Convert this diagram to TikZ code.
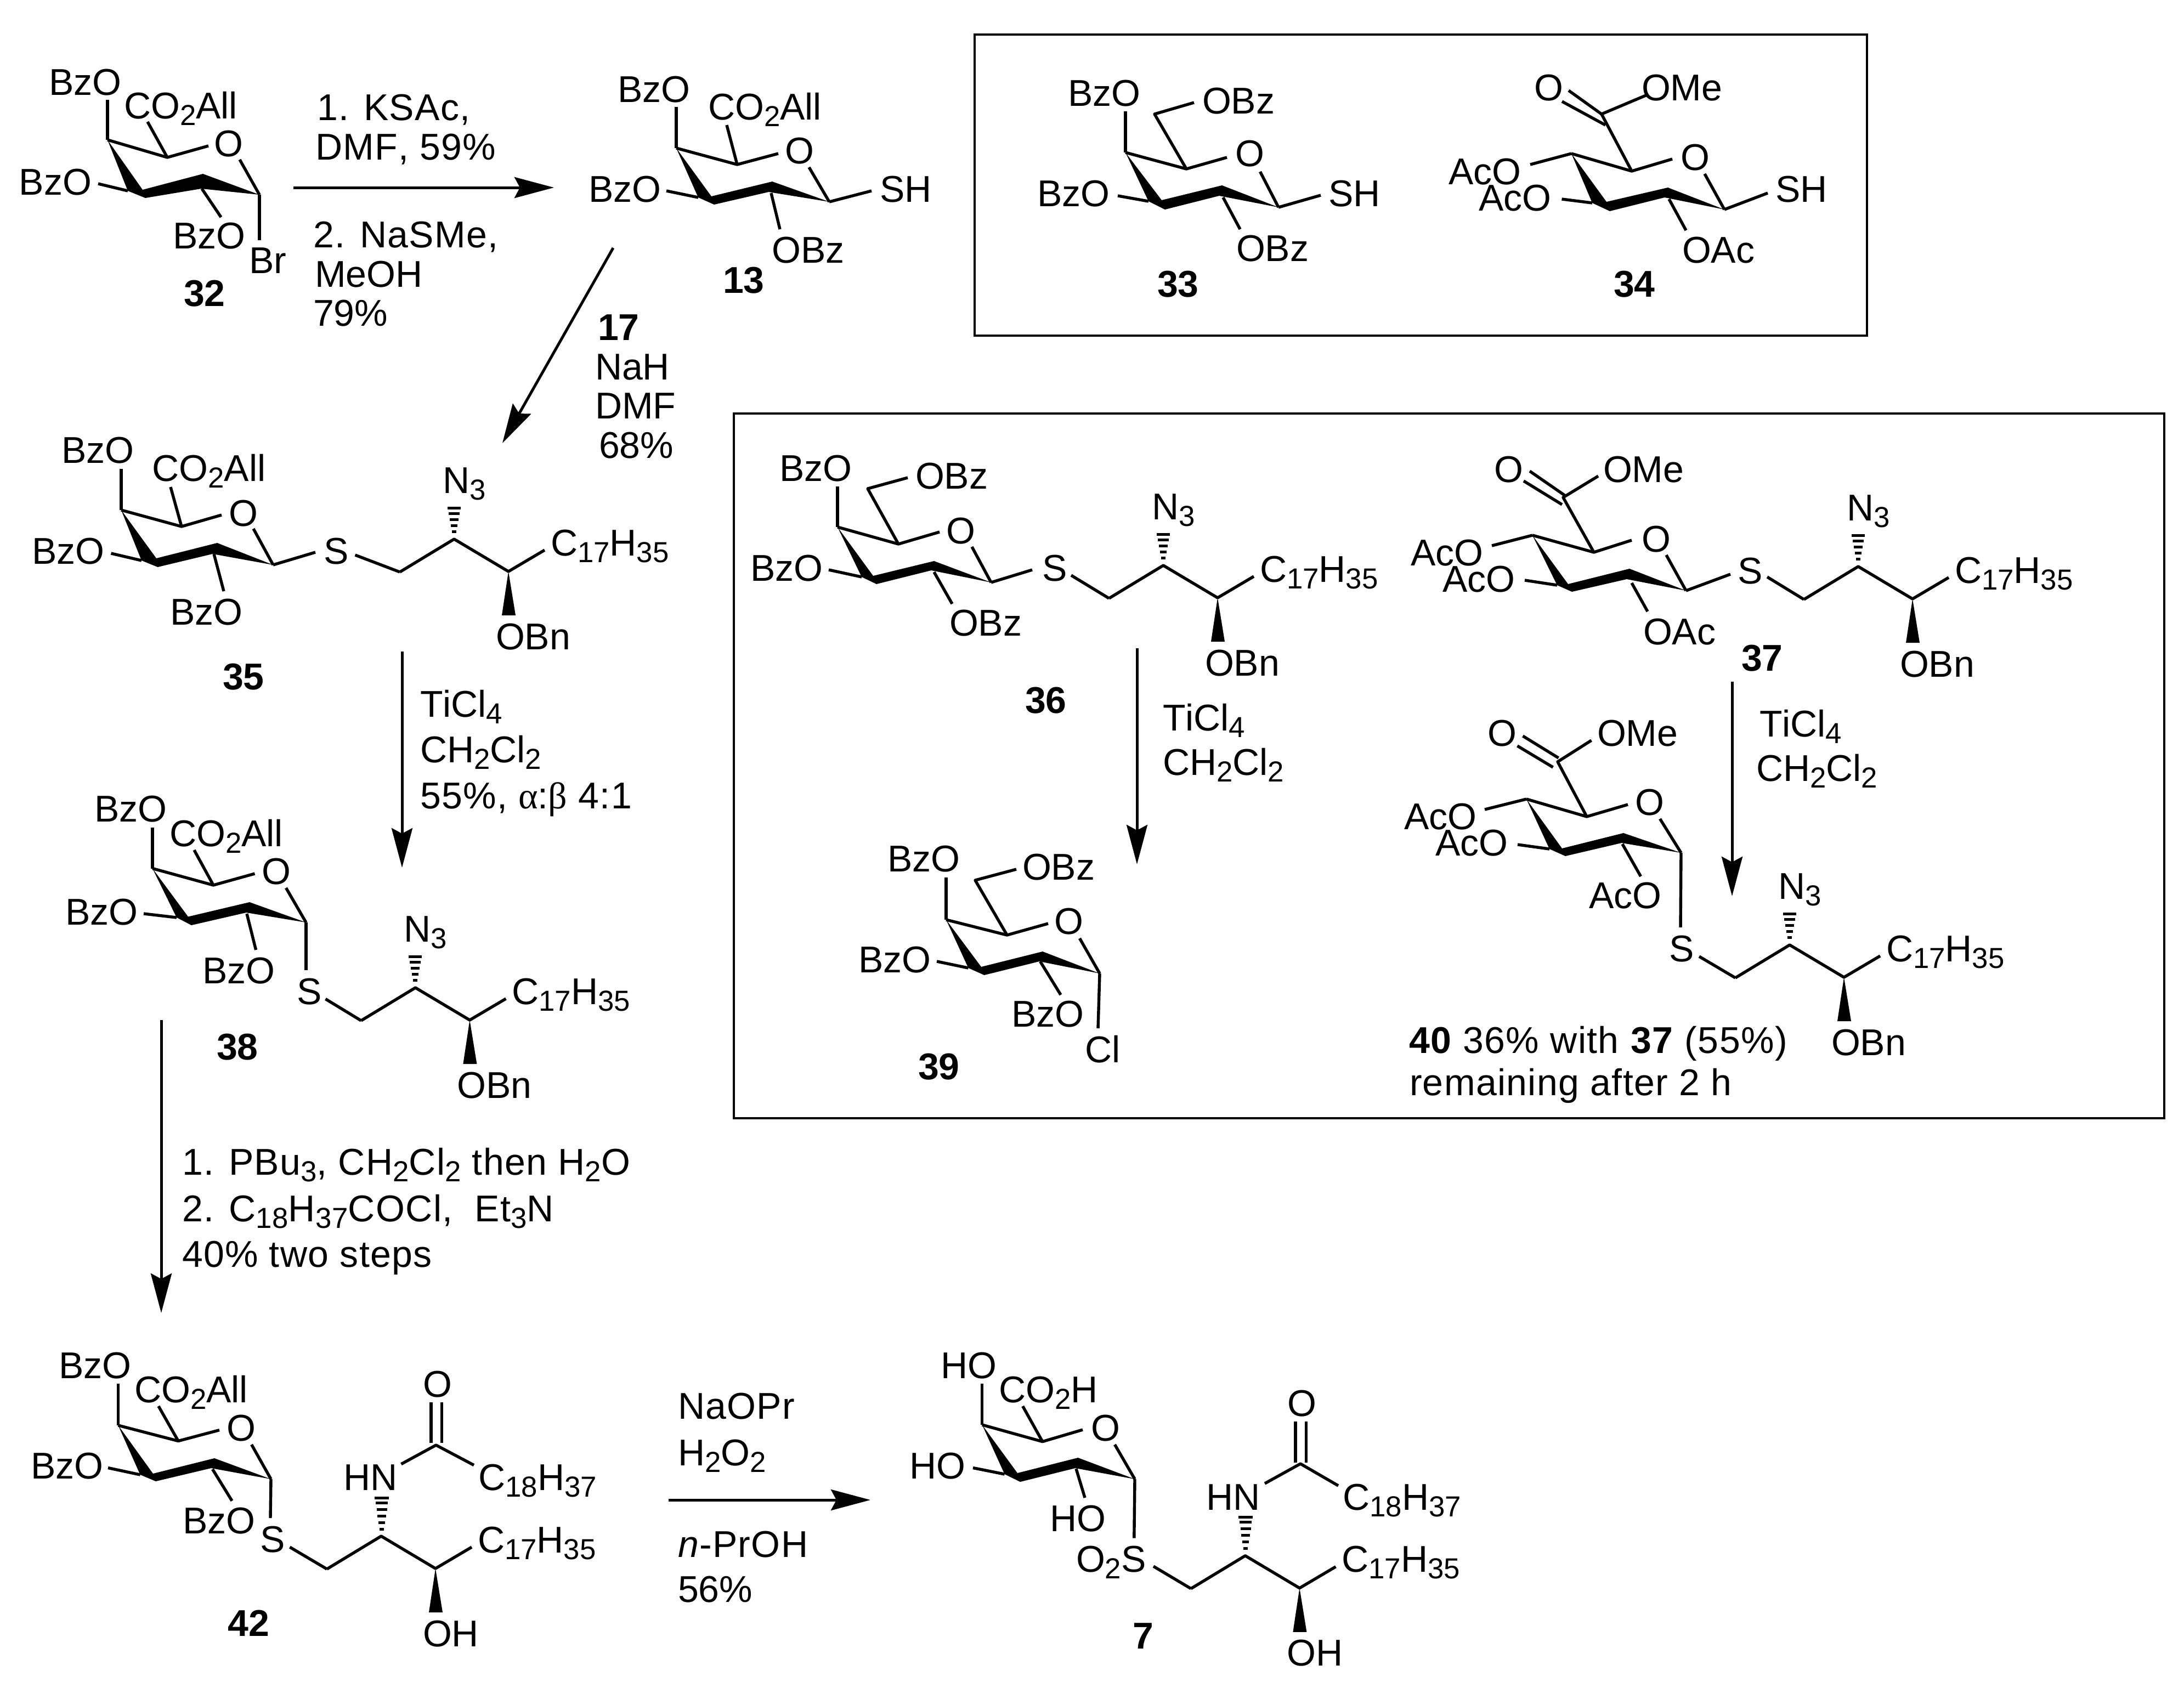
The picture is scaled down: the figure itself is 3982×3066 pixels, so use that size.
\documentclass[tikz,border=0pt]{standalone}
\usepackage{fontspec}
\setmainfont[Kerning=Off]{Liberation Sans}
\newfontfamily\grk{Liberation Serif}
\usetikzlibrary{arrows.meta}
\newcounter{tn}
\newcommand\tx[3]{\stepcounter{tn}\node[lab] (t\arabic{tn}) at (#1,#2) {#3};}
\newcommand\ls{\addfontfeature{LetterSpace=2}}
\newcommand\sbs[1]{\raisebox{-3pt}{\fontsize{13.2}{14}\selectfont #1}}
\newcommand\bd[2]{\draw[bond] (#1) -- (#2);}
% C4, C3top, C2top, C1, C2bottom, C3bottom, C3left, C5, O-end, O-start
\newcommand\sug[9]{\fill (#1) -- (#2) -- (#3) -- (#4) -- (#5) -- (#6) -- (#7) -- cycle;
  \draw[bond,line join=round] (#1) -- (#8) -- (#9);\sugb{#4}}
\newcommand\sugb[2]{\draw[bond] (#2) -- (#1);}
\newcommand\hashes[3]{\foreach \d/\w in {#3}{\draw[line width=1.25pt] ({#1-\w},{#2-\d}) -- ({#1+\w},{#2-\d});}}
\newcommand\chainb[3]{\begin{scope}[shift={(#1,#2)}]
  \draw[bond,line join=round] (0,0) -- (99,-60) -- (198,-1) -- (264,-40);
  \fill (198,-1) -- (186,79) -- (211,79) -- cycle;
  \tx{275}{-30}{C\sbs{17}H\sbs{35}}
  \tx{175}{141}{#3}
  \end{scope}}
\newcommand\azide[2]{\begin{scope}[shift={(#1,#2)}]
  \hashes{99}{-60}{14/4,25/6,36/8,47/10,57/12}
  \tx{78}{-144}{N\sbs{3}}
  \end{scope}}
\tikzset{
  lab/.style={inner sep=0pt,outer sep=0pt,anchor=base west,font=\fontsize{17}{20}\selectfont},
  bond/.style={line width=1.35pt},
  arr/.style={line width=1.25pt,-{Stealth[length=18pt,width=9.5pt,inset=2.5pt]}},
  frm/.style={line width=1.2pt}
}
\begin{document}
\begin{tikzpicture}[x=0.25pt,y=-0.25pt]
\fill[white] (0,0) rectangle (3982,3066);
\useasboundingbox (0,0) rectangle (3982,3066);
% frames
\draw[frm] (1777,63) rectangle (3404,612);
\draw[frm] (1338,754) rectangle (3946,2039);
% 32
\sug{196,255}{260,346}{370,317}{473,355}{367,344}{265,361}{233,348}{305,287}{380,266}{437,291}
\bd{196,255}{196,182}\bd{305,287}{269,222}\bd{233,348}{179,335}\bd{368,344}{403,396}\bd{473,355}{473,438}
\tx{89}{173}{BzO}\tx{226}{216}{CO\sbs{2}All}\tx{390}{285}{O}\tx{35}{355}{BzO}\tx{315}{453}{BzO}\tx{454}{498}{Br}\tx{335}{558}{\bfseries 32}
\tx{578}{219}{\ls 1. KSAc,}\tx{575}{291}{\ls DMF, 59\%}\tx{571}{451}{\ls 2. NaSMe,}\tx{574}{523}{MeOH}\tx{571}{594}{79\%}
\coordinate (a1s) at (535,342);\coordinate (a1e) at (1010,342);\draw[arr] (a1s) -- (a1e);
% 13
\sug{1233,270}{1297,358}{1408,331}{1512,368}{1401.5,350}{1302,373}{1273,360}{1344,300}{1419,280}{1475,305}
\bd{1233,270}{1233,195}\bd{1344,300}{1325,228}\bd{1273,360}{1215,348}\bd{1406,352}{1422,418}\bd{1512,368}{1589,348}
\tx{1126}{186}{BzO}\tx{1291}{218}{CO\sbs{2}All}\tx{1431}{298}{O}\tx{1073}{368}{BzO}\tx{1604}{368}{SH}\tx{1407.5}{479}{OBz}\tx{1318}{534}{\bfseries 13}
\coordinate (a2s) at (1118,452);\coordinate (a2e) at (916,808);\draw[arr] (a2s) -- (a2e);
\tx{1090}{620}{\bfseries 17}\tx{1085}{692}{NaH}\tx{1085}{763}{DMF}\tx{1092}{835}{68\%}
% 33
\sug{2052,278}{2118,365}{2228,338}{2331,378}{2223,357}{2124,382}{2094,367}{2163,308}{2237,287}{2297.5,313}
\bd{2052,278}{2052,203}\draw[bond,line join=round] (2163,308) -- (2105,208) -- (2177,187);
\bd{2094,367}{2038,357}\bd{2230,360}{2261,418}\bd{2331,378}{2408,356}
\tx{1947}{193}{BzO}\tx{2192}{207}{OBz}\tx{2252}{303}{O}\tx{1891}{376}{BzO}\tx{2422.5}{376}{SH}\tx{2254}{476}{OBz}\tx{2110}{541}{\bfseries 33}
% 34
\sug{2865,280}{2929,368}{3041,342}{3144,382}{3035,360}{2935,385}{2903,370}{2975,312}{3049,290}{3108,317}
\bd{2865,280}{2790,300}\draw[bond,line join=round] (2975,312) -- (2920,208) -- (3003,173);
\bd{2920,208}{2860,165}\bd{2927,228}{2848,185}\bd{2903,370}{2847.5,363}\bd{3043,363}{3074,420}\bd{3144,382}{3223,352}
\tx{2797}{183}{O}\tx{2993}{183}{OMe}\tx{2641}{336}{AcO}\tx{2696.5}{384}{AcO}\tx{3064}{310}{O}\tx{3237}{368}{SH}\tx{3067}{479}{OAc}\tx{2942}{541}{\bfseries 34}
% 35
\sug{221,930}{285,1018}{396,990}{498,1030}{387.5,1010}{287.5,1034}{258,1022}{331,960}{404,939}{462,964}
\bd{221,930}{221,855}\bd{331,960}{311,888}\bd{258,1022}{202.5,1009}\bd{390,1010}{408,1078}\bd{498,1030}{575,1007}\bd{647.5,1012}{729,1043}
\tx{112.5}{844}{BzO}\tx{277.5}{877}{CO\sbs{2}All}\tx{417}{959}{O}\tx{58}{1028}{BzO}\tx{310}{1139}{BzO}\tx{590}{1028}{S}\tx{406}{1257}{\bfseries 35}
\chainb{729}{1043}{OBn}\azide{729}{1043}
\coordinate (a3s) at (733,1188);\coordinate (a3e) at (733,1582);\draw[arr] (a3s) -- (a3e);
\tx{766}{1307}{TiCl\sbs{4}}\tx{766}{1390}{CH\sbs{2}Cl\sbs{2}}\tx{766}{1474}{\ls 55\%, {\grk α}:{\grk β} 4:1}
% 36
\sug{1527,961}{1592,1050}{1703,1023}{1807,1062}{1698,1040}{1598,1065}{1571,1052}{1638,992}{1713,970}{1772,997}
\bd{1527,961}{1527,887}\draw[bond,line join=round] (1638,992) -- (1582,891) -- (1655,871);
\bd{1571,1052}{1511,1039}\bd{1703,1043}{1736,1101}\bd{1807,1062}{1882,1039}\bd{1953,1049}{2022,1091}
\tx{1421}{877}{BzO}\tx{1669}{891}{OBz}\tx{1725}{991}{O}\tx{1368}{1059}{BzO}\tx{1731}{1159}{OBz}\tx{1900}{1059}{S}\tx{1869}{1300}{\bfseries 36}
\chainb{2022}{1091}{OBn}\azide{2022}{1091}
\coordinate (a4s) at (2073,1182);\coordinate (a4e) at (2073,1576);\draw[arr] (a4s) -- (a4e);
\tx{2120}{1332}{TiCl\sbs{4}}\tx{2120}{1413}{CH\sbs{2}Cl\sbs{2}}
% 39
\sug{1725,1677}{1789,1763}{1901,1735}{2005,1775}{1895,1753}{1794.5,1778}{1765.5,1765}{1836,1705}{1911,1684}{1968.5,1711}
\bd{1725,1677}{1725,1600}\draw[bond,line join=round] (1836,1705) -- (1778,1605) -- (1853,1585);
\bd{1765.5,1765}{1708,1753}\bd{1896.5,1753}{1934,1814}\bd{2005,1775}{2002,1875}
\tx{1618.5}{1589}{BzO}\tx{1864}{1604}{OBz}\tx{1922}{1703}{O}\tx{1565}{1773}{BzO}\tx{1844.5}{1872}{BzO}\tx{1978.5}{1937}{Cl}\tx{1674}{1968}{\bfseries 39}
% 37
\sug{2794,976}{2859,1065}{2971,1037}{3074,1077}{2966,1056}{2866,1079}{2839,1067}{2906,1007}{2975,985}{3038,1012}
\bd{2794,976}{2720,995}\draw[bond,line join=round] (2906,1007) -- (2850,907) -- (2914,868);
\bd{2854,904}{2789,859}\bd{2848,920}{2778,877}\bd{2839,1067}{2780,1058}\bd{2975,1063}{3004,1115}\bd{3074,1077}{3155,1047}\bd{3222,1052}{3289,1093}
\tx{2724}{879}{O}\tx{2923}{879}{OMe}\tx{2572}{1031}{AcO}\tx{2630}{1079}{AcO}\tx{2993}{1006}{O}\tx{2996}{1175}{OAc}\tx{3168}{1064}{S}\tx{3175}{1223}{\bfseries 37}
\chainb{3289}{1093}{OBn}\azide{3289}{1093}
\coordinate (a5s) at (3158,1243);\coordinate (a5e) at (3158,1634);\draw[arr] (a5s) -- (a5e);
\tx{3208}{1343}{TiCl\sbs{4}}\tx{3202}{1424}{CH\sbs{2}Cl\sbs{2}}
% 40
\sug{2783,1457}{2848,1547}{2960,1519}{3065,1555}{2956.5,1537}{2854,1561}{2825,1548}{2893,1489}{2968,1467}{3026.5,1493}
\bd{2783,1457}{2707,1476}\draw[bond,line join=round] (2893,1489) -- (2840,1389) -- (2901.5,1350);
\bd{2841.5,1382}{2776.5,1342}\bd{2831.5,1399}{2766.5,1360}\bd{2825,1548}{2767,1540}\bd{2958,1539}{2991.5,1598}\bd{3065,1555}{3064,1691}\bd{3098,1744}{3164,1783}
\tx{2712}{1360}{O}\tx{2912}{1360}{OMe}\tx{2560}{1512}{AcO}\tx{2617}{1560}{AcO}\tx{2981.5}{1486}{O}\tx{2897}{1656}{AcO}\tx{3043}{1753}{S}
\chainb{3164}{1783}{OBn}\azide{3164}{1783}
\tx{2569}{1920}{\ls \textbf{40} 36\% with \textbf{37} (55\%)}\tx{2570}{1997}{\ls remaining after 2 h}
% 38
\sug{278,1583.5}{343,1671.5}{455,1645}{558,1682}{449,1664}{349,1687}{322,1673}{389,1614}{464.5,1593}{521.5,1619}
\bd{278,1583.5}{278,1509}\bd{389,1614}{354,1550}\bd{322,1673}{262,1666}\bd{450,1666}{466.6,1732}\bd{558,1682}{558,1769}\bd{593.5,1821.5}{658.4,1861}
\tx{172.6}{1498}{BzO}\tx{309}{1543}{CO\sbs{2}All}\tx{477}{1612}{O}\tx{119}{1686}{BzO}\tx{369}{1793}{BzO}\tx{541}{1831}{S}\tx{395}{1932}{\bfseries 38}
\chainb{658.4}{1861}{OBn}\azide{658.4}{1861}
\coordinate (a6s) at (294,1860);\coordinate (a6e) at (294,2394);\draw[arr] (a6s) -- (a6e);
\tx{332}{2142}{\ls 1. PBu\sbs{3}, CH\sbs{2}Cl\sbs{2} then H\sbs{2}O}\tx{332}{2227}{\ls 2. C\sbs{18}H\sbs{37}COCl,~ Et\sbs{3}N}\tx{332}{2310}{\ls 40\% two steps}
% 42
\sug{215.5,2599}{279,2687}{391,2659}{494,2697}{385,2677}{284,2701}{255.6,2689}{325,2627.5}{400,2607.6}{458.6,2634}
\bd{215.5,2599}{215.5,2523}\bd{325,2627.5}{289,2564}\bd{255.6,2689}{197,2676.5}\bd{387.5,2679}{423,2736.6}\bd{494,2697}{493,2768}\bd{528.4,2821}{596,2861}
\tx{107.5}{2513}{BzO}\tx{245}{2557}{CO\sbs{2}All}\tx{413}{2627}{O}\tx{56}{2696}{BzO}\tx{333}{2796}{BzO}\tx{474}{2830}{S}\tx{415.6}{2983}{\bfseries 42}
\chainb{596}{2861}{OH}
\hashes{696}{2802}{14/4,26/6,38/8,50/9.5,62/11,71/13}
\tx{626}{2717}{HN}\tx{771.6}{2547}{O}\tx{872.5}{2717}{C\sbs{18}H\sbs{37}}
\draw[bond,line join=round] (731.5,2669.6) -- (795,2635) -- (864,2671.5);
\bd{786,2556.7}{786,2631}\bd{805.5,2556.7}{805.5,2631}
\coordinate (a7s) at (1219,2735);\coordinate (a7e) at (1587,2735);\draw[arr] (a7s) -- (a7e);
\tx{1236}{2587}{\ls NaOPr}\tx{1236}{2672}{H\sbs{2}O\sbs{2}}\tx{1236}{2839}{\ls\textit{n}-PrOH}\tx{1236}{2921}{56\%}
% 7
\sug{1790.7,2598}{1855,2686}{1965.5,2658}{2069,2697}{1960.6,2677}{1860,2702}{1831.6,2688}{1900.7,2628.6}{1974,2607}{2032.5,2634}
\bd{1790.7,2598}{1790.7,2523}\bd{1900.7,2628.6}{1864.7,2564}\bd{1831.6,2688}{1774,2676.5}\bd{1962,2678}{1978,2731}\bd{2069,2697}{2067.8,2804.6}\bd{2103,2856}{2171.4,2896.7}
\tx{1715}{2513}{HO}\tx{1821}{2557}{CO\sbs{2}H}\tx{1989}{2627}{O}\tx{1658}{2696}{HO}\tx{1914}{2792}{HO}\tx{1962}{2866}{O\sbs{2}S}\tx{2065.6}{3006}{\bfseries 7}
\chainb{2171.4}{2896.7}{OH}
\hashes{2271}{2837}{14/4,26/6,38/8,50/9.5,62/11,71/13}
\tx{2199.6}{2753.6}{HN}\tx{2347.6}{2582}{O}\tx{2448.5}{2753.6}{C\sbs{18}H\sbs{37}}
\draw[bond,line join=round] (2306,2705) -- (2371,2669) -- (2440,2709);
\bd{2362,2592}{2362,2667}\bd{2381.5,2592}{2381.5,2667}
\end{tikzpicture}
\end{document}
